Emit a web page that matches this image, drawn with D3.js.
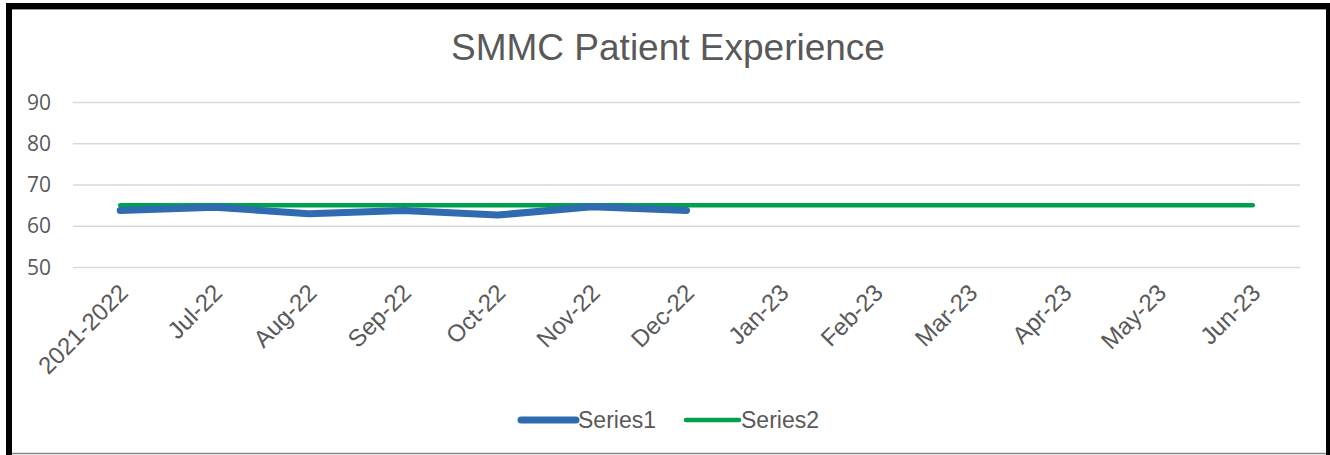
<!DOCTYPE html>
<html lang="en">
<head>
  <meta charset="utf-8">
  <title>SMMC Patient Experience</title>
  <script src="https://d3js.org/d3.v7.min.js"></script>
  <style>
    body { margin: 0; background: #fff; }
    .grid line { stroke: #d9d9d9; stroke-width: 1.5px; }
    .grid .domain { display: none; }
  </style>
</head>
<body>
  <div id="chart"></div>
  <script>

    // data
    var categories = ["2021-2022", "Jul-22", "Aug-22", "Sep-22", "Oct-22", "Nov-22", "Dec-22",
                      "Jan-23", "Feb-23", "Mar-23", "Apr-23", "May-23", "Jun-23"];
    var series1 = [63.7, 64.5, 62.9, 63.7, 62.6, 64.6, 63.7];
    var series2 = [65, 65, 65, 65, 65, 65, 65, 65, 65, 65, 65, 65, 65];
    var yTicks = [50, 60, 70, 80, 90];
    var seriesNames = ["Series1", "Series2"];
    var colors = ["#2e6bb0", "#00a04f"];

    var width = 1330, height = 455;

    var svg = d3.select("#chart").append("svg")
        .attr("width", width)
        .attr("height", height);

    //----------------------------------
    //frame
    svg.append("rect").attr("x", 6).attr("y", 3).attr("width", 1324).attr("height", 6).attr("fill", "#000");
    svg.append("rect").attr("x", 6).attr("y", 3).attr("width", 6).attr("height", 452).attr("fill", "#000");
    svg.append("rect").attr("x", 1326).attr("y", 3).attr("width", 4).attr("height", 452).attr("fill", "#000");
    svg.append("line").attr("x1", 12).attr("x2", 1326).attr("y1", 9.5).attr("y2", 9.5)
        .attr("stroke", "#999").attr("stroke-width", 1);
    svg.append("line").attr("x1", 12).attr("x2", 1326).attr("y1", 453.5).attr("y2", 453.5)
        .attr("stroke", "#888").attr("stroke-width", 1.5);

    //----------------------------------
    //scales
    var x = d3.scalePoint()
        .domain(categories)
        .range([73, 1300])
        .padding(0.5);

    var y = d3.scaleLinear()
        .domain([50, 90])
        .range([267, 102]);

    //title
    svg.append("text")
        .attr("x", 668)
        .attr("y", 60)
        .attr("text-anchor", "middle")
        .attr("font-family", "Arial, 'Liberation Sans', sans-serif")
        .attr("font-size", 37)
        .attr("fill", "#595959")
        .text("SMMC Patient Experience");

    //gridlines
    svg.append("g")
        .attr("class", "grid")
        .attr("transform", "translate(73,0)")
        .call(d3.axisRight(y).tickValues(yTicks).tickSize(1227).tickFormat(""));

    //y labels
    svg.append("g")
        .selectAll("text")
        .data(yTicks)
        .enter().append("text")
        .attr("x", 51)
        .attr("y", function(d) { return y(d); })
        .attr("dy", "0.36em")
        .attr("text-anchor", "end")
        .attr("font-family", "'Open Sans', sans-serif")
        .attr("font-size", 21)
        .attr("fill", "#595959")
        .text(function(d) { return d; });

    //x labels, rotated
    svg.append("g")
        .selectAll("text")
        .data(categories)
        .enter().append("text")
        .attr("transform", function(d) { return "translate(" + (x(d) - 3) + ",282) rotate(-45)"; })
        .attr("text-anchor", "end")
        .attr("dy", "0.72em")
        .attr("font-family", "Arial, 'Liberation Sans', sans-serif")
        .attr("font-size", 24)
        .attr("fill", "#595959")
        .text(function(d) { return d; });

    //----------------------------------
    //lines
    var line = d3.line()
        .x(function(d, i) { return x(categories[i]); })
        .y(function(d) { return y(d); });

    svg.append("path")
        .datum(series2)
        .attr("d", line)
        .attr("fill", "none")
        .attr("stroke", colors[1])
        .attr("stroke-width", 4.5)
        .attr("stroke-linecap", "round");

    svg.append("path")
        .datum(series1)
        .attr("d", line)
        .attr("fill", "none")
        .attr("stroke", colors[0])
        .attr("stroke-width", 7)
        .attr("stroke-linecap", "round")
        .attr("stroke-linejoin", "round");

    //----------------------------------
    //legend
    var legendX = [521, 686], legendW = [55, 53], legendSW = [7, 4.5];
    var legend = svg.append("g")
        .selectAll("g")
        .data(seriesNames)
        .enter().append("g")
        .attr("transform", function(d, i) { return "translate(" + legendX[i] + ",420)"; });

    legend.append("line")
        .attr("x1", 0)
        .attr("x2", function(d, i) { return legendW[i]; })
        .attr("stroke", function(d, i) { return colors[i]; })
        .attr("stroke-width", function(d, i) { return legendSW[i]; })
        .attr("stroke-linecap", "round");

    legend.append("text")
        .attr("x", function(d, i) { return legendW[i] + 2; })
        .attr("dy", "0.35em")
        .attr("font-family", "Arial, 'Liberation Sans', sans-serif")
        .attr("font-size", 23)
        .attr("fill", "#595959")
        .text(function(d) { return d; });

  </script>
</body>
</html>
